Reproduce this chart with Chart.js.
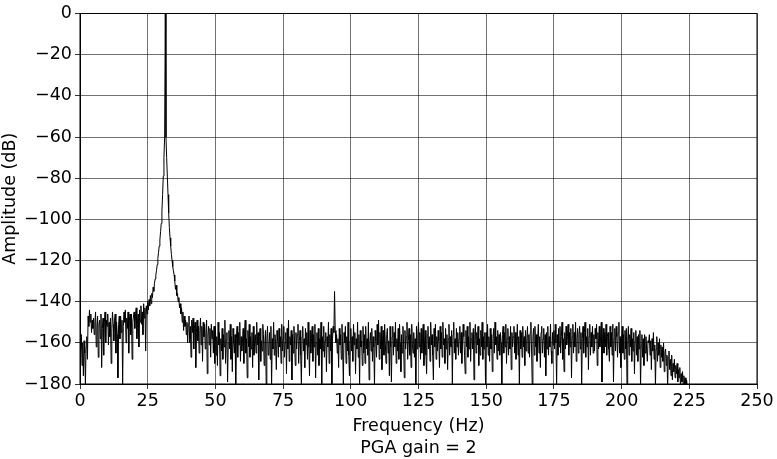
<!DOCTYPE html>
<html>
<head>
<meta charset="utf-8">
<script src="https://cdn.jsdelivr.net/npm/chart.js@4.4.1/dist/chart.umd.min.js"></script>
<style>
  html, body { margin: 0; padding: 0; background: #fff; }
  #wrap { width: 777px; height: 459px; }
</style>
</head>
<body>
<div id="wrap"><canvas id="spectrum" width="777" height="459"></canvas></div>
<script>
// spectrum, one value every 0.25 Hz starting at 0 Hz (20 values = 5 Hz per row)
const binWidth = 0.25;
const amplitudeDb = [
  -158, -163, -156, -171, -160, -176, -159, -165, -180, -162, -157, -168, -147, -152, -144, -150, -146, -155, -149, -153,
  -148, -156, -150, -145, -162, -152, -147, -167, -151, -149, -158, -146, -172, -153, -148, -166, -150, -145, -160, -149,
  -152, -146, -161, -150, -157, -148, -170, -153, -145, -151, -159, -149, -146, -165, -150, -156, -177, -151, -147, -158,
  -147, -155, -149, -180, -152, -145, -150, -144, -160, -148, -153, -145, -165, -149, -146, -156, -146, -168, -150, -147,
  -145, -153, -147, -143, -158, -149, -146, -162, -144, -150, -142, -151, -145, -156, -141, -148, -143, -164, -142, -146,
  -140, -144, -139, -142, -137, -141, -136, -138, -133, -135, -131, -129, -127, -125, -122, -119, -116, -113, -110, -106,
  -102, -96, -88, -79, -70, -60, 0, -60, -70, -79, -88, -97, -104, -109, -113, -117, -120, -123, -125, -127,
  -130, -134, -132, -137, -136, -140, -138, -143, -141, -146, -143, -150, -145, -154, -147, -152, -149, -156, -150, -160,
  -151, -147, -160, -152, -167, -149, -155, -148, -163, -153, -150, -172, -155, -149, -159, -152, -165, -154, -148, -161,
  -152, -169, -150, -157, -151, -163, -155, -149, -175, -156, -152, -161, -153, -167, -151, -158, -154, -165, -152, -170,
  -152, -166, -157, -171, -150, -161, -155, -176, -158, -164, -153, -168, -156, -162, -149, -170, -159, -155, -179, -160,
  -154, -163, -151, -168, -157, -174, -153, -160, -165, -156, -181, -158, -152, -167, -155, -161, -150, -169, -157, -164,
  -160, -153, -170, -156, -149, -165, -158, -177, -154, -162, -151, -167, -157, -163, -155, -172, -152, -166, -159, -156,
  -165, -150, -161, -155, -178, -157, -153, -169, -159, -164, -151, -156, -171, -160, -154, -180, -158, -152, -166, -162,
  -155, -168, -152, -181, -158, -163, -150, -166, -156, -161, -173, -154, -159, -167, -153, -162, -157, -170, -151, -164,
  -158, -152, -167, -160, -155, -175, -153, -163, -149, -169, -157, -161, -154, -178, -156, -165, -152, -160, -171, -155,
  -163, -156, -151, -170, -159, -154, -166, -180, -157, -152, -164, -158, -172, -153, -161, -155, -168, -150, -162, -176,
  -154, -165, -158, -152, -169, -156, -162, -151, -177, -160, -155, -166, -153, -171, -158, -163, -150, -181, -157, -164,
  -152, -167, -159, -155, -174, -157, -162, -150, -170, -156, -164, -153, -181, -158, -152, -155, -135, -154, -160, -156,
  -165, -158, -172, -153, -161, -156, -168, -151, -163, -180, -155, -160, -152, -170, -157, -164, -150, -166, -176, -159,
  -153, -164, -157, -169, -151, -161, -155, -175, -158, -163, -150, -167, -156, -181, -154, -162, -159, -171, -152, -165,
  -156, -170, -152, -163, -158, -166, -150, -178, -160, -155, -164, -153, -169, -157, -162, -181, -154, -159, -167, -151,
  -161, -149, -168, -155, -163, -152, -173, -158, -154, -166, -151, -160, -170, -156, -153, -165, -159, -176, -152, -162,
  -179, -157, -152, -166, -155, -162, -150, -170, -158, -164, -153, -168, -151, -160, -174, -156, -165, -152, -161, -177,
  -154, -163, -157, -150, -168, -159, -153, -166, -156, -172, -151, -161, -165, -155, -167, -158, -181, -152, -163, -156,
  -150, -162, -155, -168, -153, -165, -158, -151, -171, -160, -154, -166, -175, -156, -152, -163, -157, -169, -150, -161,
  -156, -166, -178, -153, -162, -151, -168, -157, -164, -154, -159, -172, -152, -163, -155, -167, -150, -161, -158, -170,
  -153, -163, -156, -173, -158, -151, -166, -157, -162, -154, -180, -156, -150, -165, -158, -168, -153, -162, -155, -166,
  -158, -152, -165, -155, -170, -160, -151, -157, -166, -175, -154, -162, -152, -167, -157, -163, -150, -169, -158, -155,
  -163, -153, -178, -156, -151, -165, -155, -161, -152, -171, -158, -166, -154, -162, -150, -168, -157, -163, -155, -180,
  -155, -162, -151, -166, -157, -169, -153, -163, -156, -174, -158, -153, -165, -150, -161, -157, -168, -154, -164, -156,
  -166, -155, -160, -181, -156, -152, -165, -155, -162, -151, -170, -158, -153, -166, -157, -163, -152, -173, -155, -162,
  -157, -152, -165, -155, -168, -160, -151, -166, -157, -180, -154, -163, -155, -167, -152, -162, -157, -171, -154, -164,
  -158, -152, -165, -156, -167, -155, -150, -163, -181, -157, -153, -166, -152, -162, -156, -169, -158, -151, -165, -157,
  -172, -155, -152, -165, -158, -153, -167, -156, -176, -155, -163, -152, -166, -157, -162, -151, -164, -170, -155, -161,
  -154, -163, -151, -160, -180, -156, -166, -153, -162, -152, -165, -157, -150, -168, -158, -174, -155, -163, -152, -161,
  -157, -151, -166, -155, -162, -153, -177, -157, -151, -165, -155, -162, -150, -169, -158, -153, -165, -156, -152, -163,
  -155, -181, -158, -152, -165, -155, -150, -167, -157, -162, -153, -173, -157, -151, -166, -155, -162, -152, -165, -156,
  -164, -153, -158, -151, -171, -155, -163, -152, -162, -157, -150, -179, -158, -153, -165, -155, -162, -151, -166, -157,
  -155, -163, -169, -152, -162, -155, -166, -151, -179, -158, -153, -164, -152, -157, -167, -155, -150, -165, -157, -172,
  -158, -152, -165, -156, -168, -154, -163, -153, -181, -159, -152, -166, -156, -162, -153, -169, -158, -164, -155, -175,
  -159, -154, -166, -157, -169, -156, -163, -154, -182, -161, -156, -167, -158, -171, -156, -165, -157, -163, -169, -159,
  -160, -156, -166, -159, -173, -158, -164, -155, -168, -161, -181, -163, -157, -169, -160, -166, -158, -172, -161, -167,
  -162, -169, -160, -174, -165, -163, -171, -166, -182, -167, -164, -173, -168, -176, -166, -178, -170, -174, -168, -177,
  -171, -175, -170, -179, -173, -177, -172, -182, -175, -179, -174, -181, -176, -180, -177, -183, -178, -181, -180, -182,
  -180.5, -182, -181, -180.5, -183, -181.5, -182, -181, -184, -183, -185, -184, -186
];
const freqs = amplitudeDb.map((_, i) => i * binWidth);

const xTicks = [0, 25, 50, 75, 100, 125, 150, 175, 200, 225, 250];
const yTicks = [0, -20, -40, -60, -80, -100, -120, -140, -160, -180];
const xTitle = ['Frequency (Hz)', 'PGA gain = 2'];
const yTitle = 'Amplitude (dB)';

const font = { family: 'DejaVu Sans', size: 17.5 };
const gridColor = 'rgba(0,0,0,0.7)';

// matplotlib style closed frame
const framePlugin = {
  id: 'frame',
  afterDraw(chart) {
    const a = chart.chartArea, ctx = chart.ctx;
    ctx.save();
    ctx.strokeStyle = '#000';
    ctx.lineWidth = 1;
    ctx.strokeRect(a.left, a.top, a.right - a.left, a.bottom - a.top);
    ctx.restore();
  }
};

new Chart(document.getElementById('spectrum'), {
  type: 'line',
  data: {
    datasets: [{
      data: amplitudeDb.map((y, i) => ({ x: freqs[i], y: y })),
      borderColor: '#000',
      borderWidth: 1,
      pointRadius: 0,
      tension: 0,
      fill: false
    }]
  },
  options: {
    responsive: false,
    animation: false,
    devicePixelRatio: 1,
    layout: { padding: { top: 10, right: 20, left: 0, bottom: 0 } },
    plugins: { legend: { display: false }, tooltip: { enabled: false } },
    scales: {
      x: {
        type: 'linear',
        min: 0,
        max: 250,
        afterBuildTicks: s => { s.ticks = xTicks.map(v => ({ value: v })); },
        afterFit: s => { s.height = 75; },
        ticks: { color: '#000', font: font, padding: 2, maxRotation: 0 },
        grid: { color: gridColor, lineWidth: 0.8, tickColor: '#000', tickLength: 5 },
        border: { color: '#000', width: 1 },
        title: { display: true, text: xTitle, color: '#000', font: { family: 'DejaVu Sans', size: 17.5, lineHeight: 1.25 }, padding: { top: 2, bottom: 0 } }
      },
      y: {
        min: -180,
        max: 0,
        afterBuildTicks: s => { s.ticks = yTicks.map(v => ({ value: v })); },
        afterFit: s => { s.width = 80; },
        ticks: {
          color: '#000', font: font, padding: 3,
          callback: v => String(v).replace('-', '\u2212')
        },
        grid: { color: gridColor, lineWidth: 0.8, tickColor: '#000', tickLength: 5 },
        border: { color: '#000', width: 1 },
        title: { display: true, text: yTitle, color: '#000', font: font, padding: { top: 0, bottom: 1 } }
      }
    }
  },
  plugins: [framePlugin]
});
</script>
</body>
</html>
